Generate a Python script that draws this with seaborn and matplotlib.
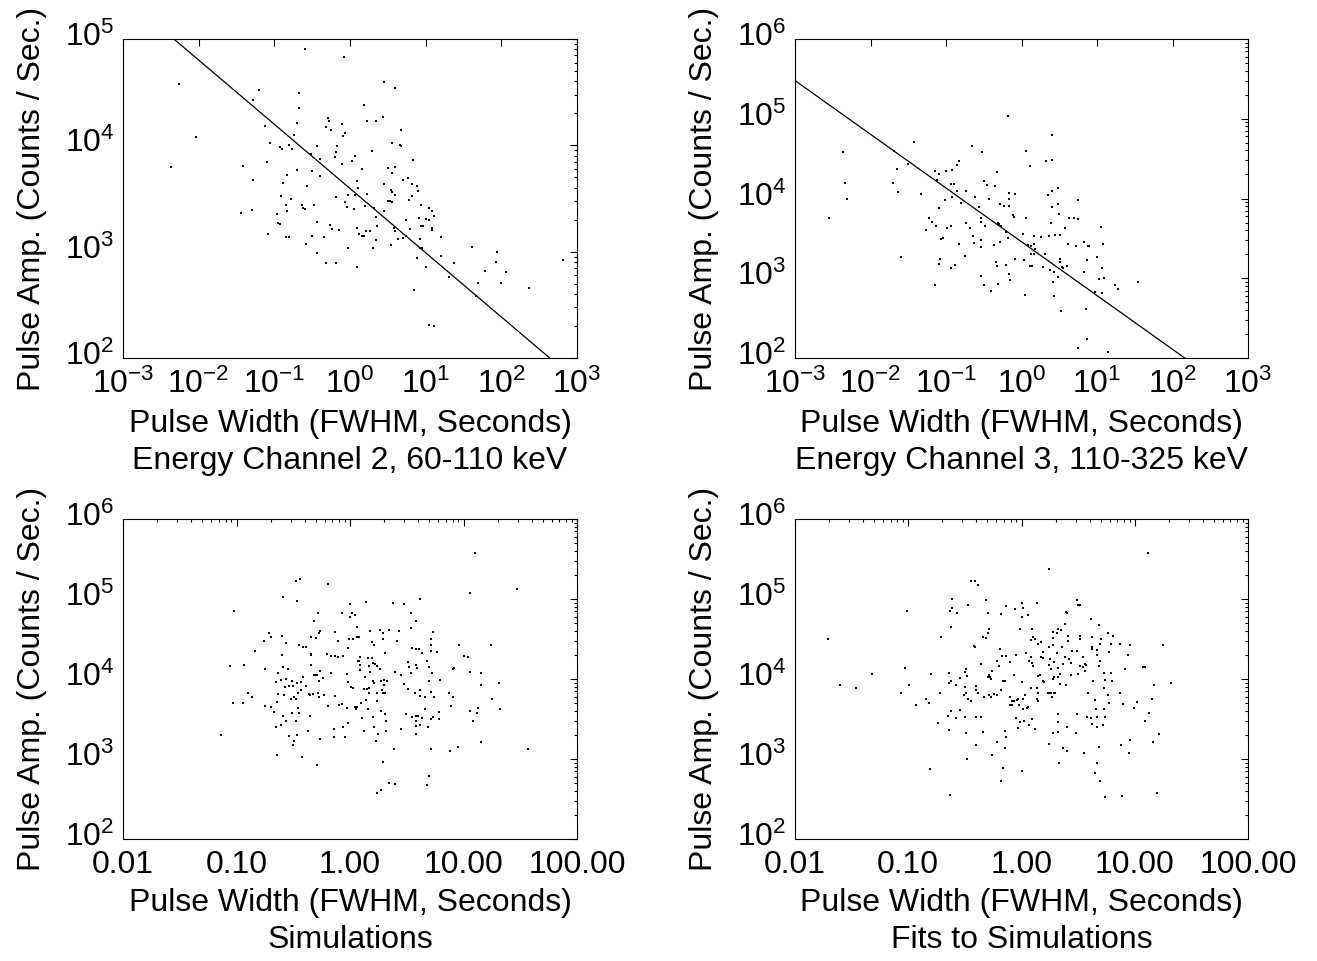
import numpy as np
import matplotlib
matplotlib.use("Agg")
import matplotlib.pyplot as plt
import matplotlib.transforms as mtransforms
import seaborn as sns
from matplotlib.ticker import FixedLocator, FixedFormatter, LogLocator, NullFormatter

# ---------------- data (log10 of pulse width [s] and pulse amplitude [counts/s]) ----------------
ch2_log_width = [
    -0.59, -0.08, -2.26, 0.45, 0.59, -1.20, -1.28, -0.68, -0.67, 0.18,
    -2.04, -0.70, 0.22, 0.35, 0.44, -0.29, -0.28, -0.32, -0.25, -0.10,
    -0.07, -0.09, -0.74, -1.12, 0.68, -1.06, 0.55, 0.66, 0.67, -0.93,
    -0.90, -0.81, -0.76, -0.44, -0.17, -0.19, -0.20, -0.51, -0.40, 0.29,
    0.06, -2.37, -1.42, -1.10, -0.70, -0.10, 0.02, 0.83, 0.50, 0.60,
    0.56, -0.50, -0.83, -0.39, -0.89, 0.16, 0.09, 0.76, 0.70, 0.82,
    0.89, 0.45, -1.28, -0.57, -0.91, -0.78, -0.84, -0.83, -1.44, -1.29,
    -0.64, -0.62, -0.60, -0.48, -0.97, -0.95, -0.93, -0.18, -0.06, -0.02,
    -0.04, 0.05, 0.10, 0.07, 0.22, 0.20, 0.32, 0.35, 0.36, 0.45,
    0.54, 0.55, 0.59, 0.50, 0.53, 0.56, 0.82, 0.78, 0.90, 0.94,
    1.04, 1.08, 1.11, 0.91, 1.00, 1.05, 0.94, 0.96, 1.09, 1.09,
    0.74, 0.79, -0.44, -0.26, -0.24, -0.15, 0.09, 0.12, 0.16, 0.18,
    0.21, 0.27, 0.58, 0.59, 0.63, 0.70, 0.74, 0.92, 0.92, 0.95,
    1.20, -1.08, -0.85, -0.80, -0.50, -0.34, -0.58, -0.43, -0.32, -0.18,
    -0.02, 0.09, 0.30, 0.34, 0.54, 0.88, 1.00, 1.20, 1.37, 1.31,
    1.61, 1.94, 1.93, 1.79, 2.06, 1.69, 1.99, 1.67, 2.37, 2.81,
    0.85, 1.05, 1.11]
ch2_log_amp = [
    4.91, 4.83, 4.58, 4.60, 4.54, 4.52, 4.43, 4.49, 4.35, 4.38,
    4.08, 4.21, 4.23, 4.23, 4.27, 4.26, 4.23, 4.17, 4.14, 4.20,
    4.12, 4.09, 4.10, 4.18, 4.14, 4.02, 4.02, 4.00, 3.99, 3.98,
    3.97, 4.00, 3.97, 3.99, 3.99, 3.94, 3.89, 3.92, 3.87, 3.95,
    3.90, 3.80, 3.81, 3.84, 3.77, 3.82, 3.85, 3.86, 3.79, 3.80,
    3.74, 3.76, 3.72, 3.71, 3.65, 3.78, 3.66, 3.69, 3.67, 3.64,
    3.62, 3.64, 3.67, 3.62, 3.52, 3.50, 3.44, 3.38, 3.36, 3.39,
    3.44, 3.41, 3.40, 3.44, 3.35, 3.27, 3.26, 3.51, 3.47, 3.53,
    3.42, 3.40, 3.60, 3.53, 3.54, 3.43, 3.41, 3.33, 3.24, 3.38,
    3.58, 3.56, 3.53, 3.48, 3.48, 3.47, 3.52, 3.49, 3.57, 3.44,
    3.41, 3.38, 3.34, 3.32, 3.31, 3.30, 3.24, 3.24, 3.22, 3.20,
    3.30, 3.21, 3.28, 3.25, 3.21, 3.20, 3.22, 3.17, 3.15, 3.15,
    3.19, 3.19, 3.22, 3.19, 3.12, 3.13, 3.15, 3.12, 3.03, 3.03,
    3.14, 3.17, 3.14, 3.14, 3.15, 3.14, 3.07, 2.99, 2.89, 2.89,
    3.03, 2.86, 3.03, 3.11, 3.06, 2.94, 2.86, 2.96, 2.89, 2.76,
    3.04, 3.00, 2.90, 2.82, 2.81, 2.71, 2.71, 2.58, 2.66, 2.92,
    2.64, 2.31, 2.30]

ch3_log_width = [
    -0.18, 0.41, -1.42, -0.65, -0.52, 0.06, -2.37, -1.69, 0.41, 0.32,
    -0.83, -0.86, 0.11, -1.65, -1.50, -1.14, -1.09, -1.00, -0.92, -0.33,
    -2.34, -1.70, -1.63, -1.33, -1.12, -0.93, -0.89, -0.85, -0.74, -0.50,
    -0.46, -0.35, -0.16, -0.08, 0.48, 0.41, 0.35, -2.31, -2.55, -1.01,
    -0.92, -0.80, -0.61, -0.56, -0.43, -0.28, -0.23, -0.17, -0.16, -0.11,
    -0.10, 0.06, 0.06, 0.41, 0.48, 0.50, 0.75, 0.63, 0.70, 0.75,
    -1.09, -1.23, -1.19, -1.13, -1.26, -0.99, -0.94, -1.04, -1.06, -0.73,
    -0.68, -0.64, -0.54, -0.53, -0.48, -0.31, -0.30, -0.27, -0.20, -0.18,
    0.02, 0.16, 0.26, 0.36, 0.39, 0.45, 0.51, 0.58, 0.61, 0.72,
    0.83, 0.88, 0.90, 1.05, 1.08, -0.83, -0.63, -0.54, -0.54, -0.36,
    -0.29, 0.08, 0.12, 0.17, 0.18, 0.13, 0.16, 0.31, 0.51, 0.53,
    0.55, 0.60, -0.75, -1.59, -1.08, -1.09, -0.94, -0.88, -0.34, -0.32,
    -0.20, -0.09, 0.03, 0.11, 0.14, 0.28, 0.38, 0.43, 0.51, 0.48,
    0.42, 0.43, 0.83, 0.87, 1.00, 1.02, 1.09, 1.07, -0.54, -0.50,
    -0.40, -0.31, -0.16, -0.15, 0.05, -1.14, 0.97, 1.07, 1.24, 1.28,
    1.54, 0.52, 0.85, 0.87, 0.75, 1.15]
ch3_log_amp = [
    5.04, 4.79, 4.71, 4.66, 4.58, 4.60, 4.58, 4.59, 4.48, 4.47,
    4.47, 4.42, 4.41, 4.37, 4.43, 4.34, 4.31, 4.34, 4.36, 4.33,
    4.19, 4.20, 4.08, 4.06, 4.23, 4.18, 4.18, 4.10, 4.09, 4.22,
    4.17, 4.16, 4.07, 4.06, 4.13, 4.09, 4.05, 4.00, 3.75, 3.98,
    4.02, 3.94, 4.02, 3.89, 4.00, 3.93, 3.90, 3.90, 4.00, 3.79,
    3.77, 3.76, 3.75, 3.89, 3.93, 3.81, 3.98, 3.76, 3.76, 3.74,
    3.88, 3.75, 3.70, 3.66, 3.60, 3.63, 3.66, 3.50, 3.49, 3.69,
    3.63, 3.53, 3.75, 3.70, 3.66, 3.69, 3.68, 3.65, 3.58, 3.51,
    3.55, 3.53, 3.52, 3.53, 3.69, 3.54, 3.54, 3.63, 3.43, 3.41,
    3.45, 3.41, 3.40, 3.64, 3.43, 3.43, 3.44, 3.48, 3.39, 3.42,
    3.46, 3.42, 3.40, 3.43, 3.37, 3.30, 3.31, 3.30, 3.24, 3.14,
    3.13, 3.15, 3.28, 3.27, 3.24, 3.18, 3.13, 3.16, 3.20, 3.15,
    3.16, 3.24, 3.23, 3.15, 3.15, 3.14, 3.10, 3.08, 3.20, 3.01,
    2.95, 2.78, 3.08, 3.23, 3.27, 2.99, 3.00, 3.13, 3.03, 2.92,
    2.84, 2.93, 3.05, 2.98, 2.79, 2.91, 2.83, 2.81, 2.92, 2.86,
    2.95, 2.59, 2.62, 2.24, 2.12, 2.07]

sim_log_width = [
    1.10, 1.47, 1.06, -0.48, -0.44, -0.19, -0.59, -0.47, -1.02, 0.00,
    0.14, 0.38, 0.48, 0.62, -0.28, -0.07, 0.02, 0.00, 0.04, -0.32,
    0.54, 0.58, 0.06, -0.26, -0.27, -0.13, 0.18, 0.26, 0.34, 0.43,
    0.54, 0.73, -0.71, -0.70, -0.76, -0.60, -0.56, -0.34, -0.30, -0.11,
    -0.01, 0.03, 0.06, 0.08, 0.19, 0.29, 0.29, 0.41, 0.71, -0.45,
    -0.41, -0.39, -0.02, 0.21, 0.61, 0.58, 0.55, 0.63, 0.71, 0.71,
    0.77, 0.96, 1.24, -0.84, -0.60, -0.34, -0.34, -0.20, -0.17, -0.13,
    -0.11, -0.06, 0.09, 0.08, 0.07, 0.16, 0.19, 0.20, 0.22, 0.31,
    -0.34, -0.59, -0.55, -1.06, -0.93, -0.75, -0.63, -0.61, -0.65, -0.56,
    -0.51, -0.47, -0.43, -0.41, -0.39, -0.43, -0.50, -0.54, -0.57, -0.32,
    -0.30, -0.29, -0.26, -0.27, -0.24, -0.17, -0.03, -0.02, 0.01, 0.03,
    0.09, 0.09, 0.13, 0.17, 0.18, 0.24, 0.26, 0.27, 0.20, 0.21,
    0.12, 0.15, 0.17, 0.30, 0.30, 0.33, 0.40, 0.45, 0.51, 0.52,
    0.54, 0.58, 0.59, 0.68, 0.70, 0.72, 0.70, 0.79, 0.92, 0.91,
    1.00, 1.04, 1.06, 1.15, 1.15, 1.31, 0.48, 0.51, 0.57, 0.62,
    0.62, 0.66, 0.71, 0.74, 0.87, 0.91, 1.25, 1.32, -1.03, -0.94,
    -0.90, -0.86, -0.75, -0.70, -0.67, -0.63, -0.58, -0.64, -0.49, -0.48,
    -0.52, -0.46, -0.36, -0.35, -0.33, -0.28, -0.27, -0.23, -0.19, -0.13,
    -0.10, -0.07, -0.03, 0.04, 0.05, 0.06, 0.10, 0.14, 0.17, 0.24,
    0.24, 0.28, 0.29, 0.31, 0.16, 0.27, 0.31, 0.32, 0.49, 0.55,
    0.58, 0.60, 0.63, 0.66, 0.71, 0.73, 0.78, 0.78, 0.89, 1.06,
    1.08, 1.12, 1.13, -0.59, -0.56, -0.51, -0.48, -0.46, -0.45, -0.35,
    -0.65, -0.61, -0.37, -0.54, -0.49, -0.50, -0.47, -0.26, -0.14, -0.14,
    -0.06, -0.04, -0.02, 0.11, 0.12, 0.20, 0.21, 0.23, 0.25, 0.32,
    0.45, 0.58, 0.58, 0.58, 0.62, 0.69, 1.15, 0.39, 0.71, 0.88,
    0.95, 1.57, -0.64, -0.42, -0.29, -1.14, 0.29, 0.34, 0.40, 0.68,
    0.70, 0.24, 0.27]
sim_log_amp = [
    5.58, 5.12, 5.07, 5.23, 5.25, 5.19, 5.02, 4.98, 4.85, 4.94,
    4.96, 4.95, 4.94, 5.00, 4.83, 4.83, 4.82, 4.77, 4.80, 4.73,
    4.82, 4.73, 4.65, 4.60, 4.58, 4.59, 4.60, 4.61, 4.61, 4.60,
    4.64, 4.59, 4.58, 4.52, 4.48, 4.54, 4.45, 4.52, 4.51, 4.47,
    4.50, 4.50, 4.53, 4.52, 4.46, 4.50, 4.57, 4.48, 4.50, 4.43,
    4.40, 4.40, 4.39, 4.42, 4.38, 4.38, 4.39, 4.33, 4.43, 4.35,
    4.34, 4.42, 4.42, 4.35, 4.30, 4.31, 4.30, 4.31, 4.29, 4.29,
    4.28, 4.29, 4.28, 4.23, 4.22, 4.26, 4.26, 4.20, 4.19, 4.32,
    4.17, 4.15, 4.13, 4.16, 4.18, 4.12, 4.07, 3.99, 3.96, 4.00,
    3.98, 3.95, 3.96, 4.02, 3.91, 3.86, 3.91, 3.91, 3.90, 4.05,
    4.05, 4.05, 4.10, 3.97, 4.01, 4.08, 4.06, 3.96, 3.90, 3.89,
    4.17, 4.11, 4.03, 4.16, 4.09, 4.16, 4.13, 3.98, 3.98, 3.95,
    3.88, 3.88, 3.89, 3.99, 3.93, 3.98, 4.09, 4.05, 4.21, 4.15,
    4.08, 4.18, 4.14, 4.22, 4.15, 4.07, 3.97, 3.99, 4.14, 4.13,
    4.29, 4.28, 4.09, 4.08, 3.92, 3.95, 3.94, 3.88, 3.83, 3.86,
    3.79, 3.78, 3.84, 3.77, 3.82, 3.78, 3.75, 3.63, 3.70, 3.70,
    3.82, 3.78, 3.66, 3.65, 3.59, 3.81, 3.80, 3.71, 3.77, 3.75,
    3.75, 3.83, 3.81, 3.80, 3.81, 3.83, 3.78, 3.80, 3.66, 3.79,
    3.68, 3.69, 3.64, 3.65, 3.63, 3.65, 3.70, 3.74, 3.82, 3.83,
    3.73, 3.86, 3.82, 3.83, 3.63, 3.60, 3.56, 3.48, 3.56, 3.53,
    3.54, 3.54, 3.51, 3.63, 3.50, 3.52, 3.59, 3.50, 3.66, 3.60,
    3.48, 3.57, 3.64, 3.54, 3.48, 3.58, 3.48, 3.64, 3.58, 3.54,
    3.40, 3.42, 3.35, 3.29, 3.23, 3.17, 3.30, 3.25, 3.28, 3.37,
    3.40, 3.27, 3.45, 3.51, 3.35, 3.52, 3.40, 3.23, 3.31, 3.35,
    3.37, 3.41, 3.47, 3.31, 3.43, 3.40, 3.21, 3.12, 3.12, 3.10,
    3.15, 3.13, 3.05, 3.02, 2.92, 3.30, 2.96, 2.70, 2.69, 2.68,
    2.79, 2.58, 2.61]

fit_log_width = [
    1.12, 0.24, -0.45, -0.41, -0.38, -0.61, -0.31, 0.00, 0.01, 0.14,
    0.49, 0.50, 0.52, -0.47, -0.63, -0.61, -0.57, -1.01, -0.30, -0.18,
    -0.14, -0.06, 0.00, 0.06, 0.39, 0.40, 0.61, 0.68, 0.81, 0.76,
    -0.62, -0.71, -0.34, -0.31, -0.30, -0.29, -0.01, 0.09, 0.10, 0.12,
    0.08, 0.15, 0.17, 0.28, 0.31, 0.32, 0.35, 0.38, 0.28, 0.41,
    0.41, 0.52, 0.52, 0.62, 0.69, 0.70, 0.79, 0.87, 0.96, 1.25,
    -1.71, -0.42, -0.41, -0.19, -0.17, -0.14, -0.05, 0.24, 0.28, 0.31,
    0.36, 0.38, 0.45, 0.49, 0.54, 0.54, 0.57, 0.62, 0.62, 0.67,
    0.67, 0.69, 0.77, 0.94, 0.04, 0.08, 0.07, 0.09, 0.10, 0.17,
    0.19, 0.19, 0.25, 0.29, 0.24, 0.26, 0.32, 0.34, 0.37, 0.42,
    0.44, 0.52, 0.56, 0.68, 0.56, 0.50, 0.44, 0.39, 0.34, 0.32,
    0.29, 0.28, 0.30, 0.25, 0.27, 0.19, 0.20, 0.16, 0.15, 0.73,
    0.79, 0.74, 0.80, 0.63, 0.73, 0.91, 1.07, 1.09, 1.17, 1.32,
    -1.03, -1.32, -0.80, -0.64, -0.49, -0.48, -0.50, -0.36, -0.22, -0.26,
    -0.29, -0.30, -0.28, -0.27, -0.20, -0.10, -0.07, -0.07, -0.16, -0.15,
    -0.18, 0.00, -1.60, -1.46, -1.06, -0.99, -0.93, -0.84, -0.82, -0.72,
    -0.64, -0.62, -0.58, -0.54, -0.50, -0.51, -0.49, -0.47, -0.45, -0.40,
    -0.38, -0.40, -0.33, -0.29, -0.27, -0.24, -0.22, -0.10, -0.08, -0.08,
    -0.07, -0.04, -0.03, 0.01, 0.03, 0.05, 0.06, 0.01, -0.02, -0.10,
    0.08, 0.14, 0.15, 0.23, 0.26, 0.29, 0.14, 0.15, 0.59, 0.65,
    0.66, 0.76, 0.87, 0.90, 1.02, 0.99, 1.15, 1.13, 1.09, 0.77,
    0.73, 0.67, 0.61, 0.62, 0.58, 0.67, 0.72, 0.74, -0.62, -0.65,
    -0.58, -0.54, -0.50, -0.40, -0.36, -0.74, -0.64, -0.49, -0.34, -0.22,
    -0.15, -0.14, -0.05, -0.03, -0.01, 0.02, 0.09, 0.07, 0.12, 0.32,
    0.32, 0.32, 0.28, 0.40, 0.49, 0.48, 0.24, 0.37, 0.40, 0.55,
    0.68, 0.88, 0.96, 0.95, 1.16, 1.21, -0.40, -0.26, -0.15, -0.48,
    -0.16, 0.00, 0.33, 0.67, 0.65, 0.69, -0.18, -0.81, -0.63, 0.74,
    0.89, 1.20]
fit_log_amp = [
    5.58, 5.38, 5.22, 5.22, 5.17, 5.00, 4.99, 4.95, 4.89, 4.95,
    4.99, 4.93, 4.93, 4.93, 4.85, 4.89, 4.83, 4.85, 4.83, 4.81,
    4.91, 4.88, 4.77, 4.80, 4.84, 4.83, 4.75, 4.68, 4.54, 4.58,
    4.65, 4.52, 4.52, 4.51, 4.58, 4.62, 4.62, 4.62, 4.53, 4.50,
    4.49, 4.44, 4.46, 4.59, 4.58, 4.62, 4.61, 4.69, 4.51, 4.54,
    4.48, 4.54, 4.50, 4.53, 4.44, 4.50, 4.44, 4.44, 4.43, 4.42,
    4.50, 4.41, 4.40, 4.38, 4.29, 4.29, 4.30, 4.40, 4.43, 4.33,
    4.40, 4.27, 4.35, 4.35, 4.28, 4.15, 4.17, 4.38, 4.40, 4.36,
    4.30, 4.23, 4.34, 4.30, 4.32, 4.28, 4.22, 4.20, 4.16, 4.27,
    4.26, 4.34, 4.25, 4.21, 4.18, 4.12, 4.14, 4.06, 4.19, 4.25,
    4.20, 4.16, 4.19, 4.16, 4.10, 4.06, 4.05, 3.93, 3.94, 4.02,
    4.02, 4.00, 3.82, 3.83, 3.77, 3.98, 3.96, 4.05, 4.04, 4.08,
    4.08, 3.99, 3.98, 3.98, 3.89, 4.12, 4.15, 4.15, 3.93, 3.95,
    4.14, 4.06, 4.06, 4.07, 4.12, 4.04, 4.09, 4.19, 4.22, 4.10,
    4.05, 4.03, 4.02, 4.00, 4.16, 4.21, 4.05, 4.05, 3.98, 3.97,
    3.86, 3.96, 3.92, 3.89, 3.82, 3.93, 3.67, 3.75, 3.70, 3.83,
    3.95, 3.98, 3.92, 4.01, 3.90, 3.80, 3.83, 3.75, 3.73, 3.91,
    3.83, 3.86, 3.77, 3.80, 3.78, 3.81, 3.80, 3.77, 3.72, 3.67,
    3.73, 3.74, 3.75, 3.75, 3.80, 3.64, 3.65, 3.62, 3.68, 3.67,
    3.89, 3.89, 3.82, 3.83, 3.82, 3.82, 3.75, 3.72, 3.82, 3.74,
    3.63, 3.80, 3.82, 3.69, 3.71, 3.64, 3.75, 3.57, 3.47, 3.70,
    3.63, 3.52, 3.51, 3.44, 3.52, 3.40, 3.43, 3.52, 3.60, 3.54,
    3.51, 3.61, 3.52, 3.53, 3.53, 3.45, 3.36, 3.33, 3.34, 3.21,
    3.35, 3.28, 3.51, 3.39, 3.46, 3.48, 3.50, 3.42, 3.37, 3.56,
    3.46, 3.34, 3.33, 3.40, 3.56, 3.32, 3.19, 3.14, 3.10, 3.08,
    3.15, 3.18, 3.24, 3.08, 3.21, 3.31, 3.17, 3.05, 3.14, 3.00,
    2.89, 2.85, 2.95, 2.95, 2.82, 2.72, 2.72, 2.88, 2.55, 2.53,
    2.54, 2.58]

# power-law fits shown in the top panels: log10(amp) = intercept + slope * log10(width)
ch2_fit_intercept, ch2_fit_slope = 3.594, -0.604
ch3_fit_intercept, ch3_fit_slope = 3.457, -0.674

titles = ["Energy Channel 2, 60-110 keV", "Energy Channel 3, 110-325 keV",
          "Simulations", "Fits to Simulations"]
xlabel_text = "Pulse Width (FWHM, Seconds)"
ylabel_text = "Pulse Amp. (Counts / Sec.)"

top_x_ticks = [1e-3, 1e-2, 1e-1, 1e0, 1e1, 1e2, 1e3]
top_x_labels = [r"$10^{-3}$", r"$10^{-2}$", r"$10^{-1}$", r"$10^{0}$",
                r"$10^{1}$", r"$10^{2}$", r"$10^{3}$"]
bot_x_ticks = [0.01, 0.1, 1.0, 10.0, 100.0]
bot_x_labels = ["0.01", "0.10", "1.00", "10.00", "100.00"]
y_ticks = [1e2, 1e3, 1e4, 1e5, 1e6]
y_labels = [r"$10^{2}$", r"$10^{3}$", r"$10^{4}$", r"$10^{5}$", r"$10^{6}$"]

# ---------------- style ----------------
sns.set_style("white")
plt.rcParams["font.family"] = ["Liberation Sans", "DejaVu Sans"]
plt.rcParams["mathtext.fontset"] = "custom"
plt.rcParams["mathtext.rm"] = "Liberation Sans"
plt.rcParams["mathtext.it"] = "Liberation Sans"
plt.rcParams["mathtext.bf"] = "Liberation Sans"
plt.rcParams["text.color"] = "black"
plt.rcParams["axes.labelcolor"] = "black"
plt.rcParams["xtick.color"] = "black"
plt.rcParams["ytick.color"] = "black"
FS = 23

fig = plt.figure(figsize=(13.17, 9.61), dpi=100)
fig.patch.set_facecolor("white")

W_L = (577 - 123) / 1317
W_R = (1248 - 795) / 1317
positions = [
    [123 / 1317, 1 - 358 / 961, W_L, (358 - 39) / 961],
    [795 / 1317, 1 - 358 / 961, W_R, (358 - 39) / 961],
    [123 / 1317, 1 - 839 / 961, W_L, (839 - 519) / 961],
    [795 / 1317, 1 - 839 / 961, W_R, (839 - 519) / 961],
]

panels = [
    (ch2_log_width, ch2_log_amp, (1e-3, 1e3), (1e2, 1e5), top_x_ticks, top_x_labels,
     (ch2_fit_intercept, ch2_fit_slope)),
    (ch3_log_width, ch3_log_amp, (1e-3, 1e3), (1e2, 1e6), top_x_ticks, top_x_labels,
     (ch3_fit_intercept, ch3_fit_slope)),
    (sim_log_width, sim_log_amp, (1e-2, 1e2), (1e2, 1e6), bot_x_ticks, bot_x_labels, None),
    (fit_log_width, fit_log_amp, (1e-2, 1e2), (1e2, 1e6), bot_x_ticks, bot_x_labels, None),
]

# shift y tick labels up so that the base "10" sits on the tick (IDL-like)
y_shift = mtransforms.ScaledTranslation(0, 5 / 100, fig.dpi_scale_trans)

for pos, (lw, la, xl, yl, xt, xtl, fit), title in zip(positions, panels, titles):
    ax = fig.add_axes(pos)
    w = 10 ** np.asarray(lw)
    a = 10 ** np.asarray(la)
    sns.scatterplot(x=w, y=a, ax=ax, color="black", marker="s", s=3,
                    linewidth=0, legend=False)
    if fit is not None:
        lx = np.log10(np.asarray(xl))
        sns.lineplot(x=10 ** lx, y=10 ** (fit[0] + fit[1] * lx), ax=ax,
                     color="black", linewidth=0.9, legend=False)
    ax.set_xscale("log")
    ax.set_yscale("log")
    ax.set_xlim(*xl)
    ax.set_ylim(*yl)

    yt = [t for t in y_ticks if yl[0] <= t <= yl[1]]
    ytl = [l for t, l in zip(y_ticks, y_labels) if yl[0] <= t <= yl[1]]
    ax.xaxis.set_major_locator(FixedLocator(xt))
    ax.xaxis.set_major_formatter(FixedFormatter(xtl))
    ax.yaxis.set_major_locator(FixedLocator(yt))
    ax.yaxis.set_major_formatter(FixedFormatter(ytl))
    ax.xaxis.set_minor_locator(LogLocator(base=10, subs=np.arange(2, 10)))
    ax.yaxis.set_minor_locator(LogLocator(base=10, subs=np.arange(2, 10)))
    ax.xaxis.set_minor_formatter(NullFormatter())
    ax.yaxis.set_minor_formatter(NullFormatter())

    ax.tick_params(which="both", direction="in", top=True, right=True,
                   colors="black", labelcolor="black", width=0.8, labelsize=FS)
    ax.tick_params(which="major", length=5)
    ax.tick_params(which="minor", length=2.5)
    ax.tick_params(axis="y", which="major", pad=6)
    ax.tick_params(axis="x", which="major", pad=8)
    for lab in ax.get_yticklabels():
        lab.set_transform(lab.get_transform() + y_shift)
    for sp in ax.spines.values():
        sp.set_color("black")
        sp.set_linewidth(0.8)

    ax.set_xlabel(xlabel_text + "\n" + title, fontsize=FS, linespacing=1.3,
                  labelpad=6, color="black")
    ax.set_ylabel(ylabel_text, fontsize=FS, labelpad=13, color="black")
    ax.grid(False)

fig.savefig("out.png", dpi=100, facecolor="white")
